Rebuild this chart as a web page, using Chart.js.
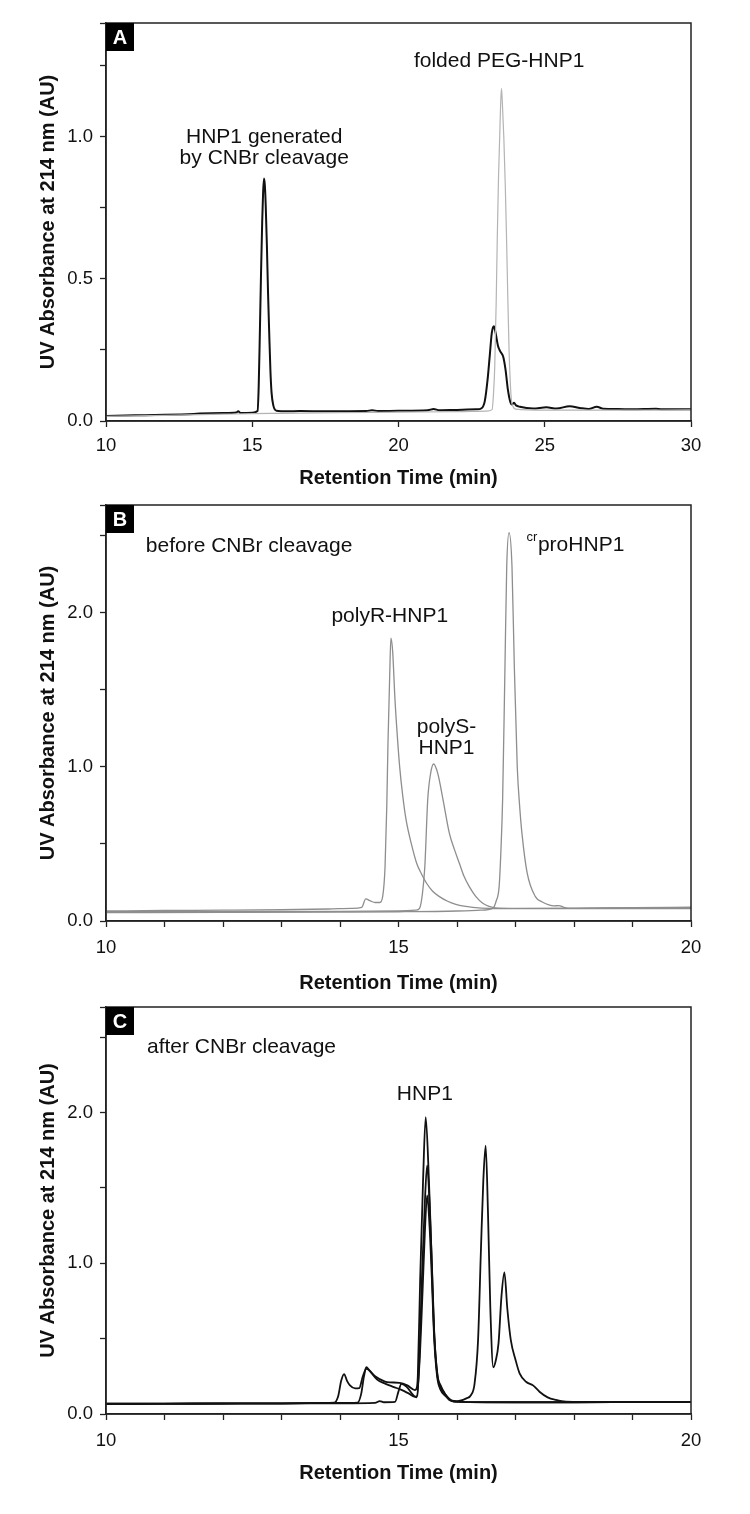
<!DOCTYPE html>
<html><head><meta charset="utf-8">
<script src="https://cdn.jsdelivr.net/npm/chart.js@4.4.0/dist/chart.umd.min.js"></script>
<style>
html,body{margin:0;padding:0;background:#fff;width:750px;height:1514px;overflow:hidden;}
.panel{position:absolute;left:0;width:750px;}
canvas{display:block;}
</style></head><body>
<div class="panel" style="top:0px;height:500px"><canvas id="cA" width="750" height="500"></canvas></div>
<div class="panel" style="top:480px;height:520px"><canvas id="cB" width="750" height="520"></canvas></div>
<div class="panel" style="top:985px;height:529px"><canvas id="cC" width="750" height="529"></canvas></div>
<script>
// ---------- Panel A data ----------
const timeA_cleaved = [10, 11, 12, 13, 13.2, 14, 14.45, 14.52, 14.6, 15.0, 15.18, 15.22, 15.26, 15.3, 15.34, 15.37, 15.4, 15.43, 15.46, 15.5, 15.54, 15.58, 15.62, 15.66, 15.72, 15.83, 16.2, 16.63, 17.5, 18.9, 19.1, 19.3, 20, 21.0, 21.2, 21.4, 22.0, 22.67, 22.84, 22.95, 23.05, 23.12, 23.19, 23.26, 23.32, 23.4, 23.48, 23.58, 23.66, 23.74, 23.82, 23.88, 23.95, 24.02, 24.15, 24.6, 25.06, 25.4, 25.85, 26.2, 26.5, 26.78, 27.0, 27.5, 28.0, 28.8, 29.0, 30];
const absA_cleaved  = [0.018, 0.020, 0.022, 0.025, 0.026, 0.028, 0.030, 0.034, 0.028, 0.029, 0.035, 0.12, 0.31, 0.52, 0.70, 0.80, 0.853, 0.83, 0.76, 0.62, 0.45, 0.31, 0.18, 0.10, 0.055, 0.036, 0.034, 0.035, 0.034, 0.035, 0.038, 0.035, 0.036, 0.038, 0.042, 0.038, 0.039, 0.041, 0.045, 0.07, 0.15, 0.23, 0.31, 0.333, 0.31, 0.265, 0.245, 0.226, 0.18, 0.11, 0.068, 0.058, 0.064, 0.055, 0.05, 0.044, 0.048, 0.044, 0.052, 0.046, 0.042, 0.05, 0.043, 0.042, 0.041, 0.043, 0.041, 0.041];
const timeA_peg = [10, 12, 14, 15, 16, 18, 20, 22, 23.0, 23.2, 23.25, 23.29, 23.34, 23.38, 23.42, 23.46, 23.49, 23.52, 23.55, 23.6, 23.65, 23.69, 23.74, 23.78, 23.82, 23.86, 23.92, 24.0, 25, 27, 30];
const absA_peg  = [0.016, 0.020, 0.024, 0.026, 0.027, 0.029, 0.031, 0.033, 0.035, 0.04, 0.1, 0.19, 0.42, 0.66, 0.86, 1.0, 1.11, 1.17, 1.12, 1.0, 0.83, 0.66, 0.42, 0.25, 0.14, 0.074, 0.05, 0.042, 0.038, 0.038, 0.039];

// ---------- Panel B data ----------
const timeB_polyR = [10, 11, 12, 13, 13.8, 14.2, 14.37, 14.44, 14.52, 14.6, 14.68, 14.73, 14.77, 14.8, 14.82, 14.85, 14.87, 14.9, 14.94, 14.98, 15.02, 15.07, 15.13, 15.22, 15.31, 15.4, 15.48, 15.58, 15.7, 15.84, 15.98, 16.12, 16.27, 16.55, 17, 18, 19, 20];
const absB_polyR  = [0.065, 0.068, 0.07, 0.073, 0.078, 0.082, 0.088, 0.143, 0.13, 0.12, 0.12, 0.16, 0.35, 0.75, 1.15, 1.6, 1.835, 1.75, 1.435, 1.2, 1.0, 0.82, 0.656, 0.5, 0.375, 0.3, 0.245, 0.195, 0.158, 0.128, 0.108, 0.096, 0.089, 0.082, 0.08, 0.08, 0.08, 0.08];
const timeB_polyS = [10, 12, 14, 15, 15.3, 15.36, 15.41, 15.45, 15.5, 15.55, 15.6, 15.67, 15.76, 15.87, 15.96, 16.04, 16.12, 16.21, 16.32, 16.44, 16.55, 16.66, 17, 18, 19, 20];
const absB_polyS  = [0.06, 0.06, 0.062, 0.065, 0.07, 0.082, 0.18, 0.353, 0.79, 0.96, 1.019, 0.96, 0.79, 0.569, 0.46, 0.375, 0.29, 0.223, 0.16, 0.115, 0.095, 0.085, 0.082, 0.083, 0.085, 0.087];
const timeB_crpro = [10, 12, 14, 15, 16, 16.4, 16.61, 16.67, 16.72, 16.75, 16.78, 16.82, 16.85, 16.89, 16.94, 16.98, 17.03, 17.07, 17.11, 17.2, 17.34, 17.45, 17.57, 17.66, 17.74, 17.82, 17.9, 18.5, 19, 20];
const absB_crpro  = [0.055, 0.056, 0.058, 0.06, 0.065, 0.07, 0.082, 0.13, 0.223, 0.45, 0.79, 1.651, 2.3, 2.52, 2.3, 1.65, 1.0, 0.75, 0.57, 0.31, 0.158, 0.125, 0.104, 0.098, 0.1, 0.09, 0.082, 0.085, 0.087, 0.09];

// ---------- Panel C data ----------
const timeC_run1 = [10, 11, 12, 13, 13.9, 13.97, 14.02, 14.07, 14.12, 14.17, 14.26, 14.33, 14.39, 14.45, 14.5, 14.6, 14.77, 14.85, 15.02, 15.15, 15.28, 15.31, 15.33, 15.37, 15.42, 15.465, 15.52, 15.56, 15.61, 15.67, 15.72, 15.79, 15.87, 15.99, 16.5, 17, 18, 19, 20];
const absC_run1  = [0.068, 0.069, 0.07, 0.071, 0.075, 0.12, 0.22, 0.265, 0.22, 0.19, 0.17, 0.172, 0.25, 0.30, 0.29, 0.25, 0.215, 0.21, 0.207, 0.19, 0.159, 0.17, 0.25, 0.887, 1.55, 1.97, 1.55, 1.108, 0.534, 0.25, 0.19, 0.137, 0.093, 0.082, 0.078, 0.078, 0.078, 0.079, 0.08];
const timeC_run2 = [10, 11, 12, 13, 14, 14.3, 14.36, 14.41, 14.45, 14.5, 14.63, 14.78, 14.91, 15.05, 15.18, 15.28, 15.32, 15.36, 15.4, 15.45, 15.49, 15.53, 15.57, 15.61, 15.66, 15.72, 15.8, 15.9, 16.0, 17, 18, 19, 20];
const absC_run2  = [0.068, 0.069, 0.07, 0.071, 0.073, 0.075, 0.13, 0.25, 0.31, 0.29, 0.23, 0.2, 0.18, 0.16, 0.135, 0.115, 0.12, 0.4, 0.9, 1.4, 1.65, 1.4, 1.0, 0.55, 0.27, 0.18, 0.13, 0.09, 0.08, 0.078, 0.078, 0.079, 0.08];
const timeC_run3 = [10, 11, 12, 13, 14, 14.6, 14.68, 14.75, 14.94, 15.0, 15.05, 15.14, 15.25, 15.31, 15.36, 15.41, 15.45, 15.49, 15.53, 15.57, 15.61, 15.66, 15.72, 15.8, 15.9, 16.0, 16.16, 16.24, 16.3, 16.36, 16.41, 16.45, 16.49, 16.53, 16.57, 16.62, 16.66, 16.71, 16.76, 16.81, 16.86, 16.92, 17.0, 17.07, 17.18, 17.3, 17.41, 17.55, 17.69, 17.86, 18.5, 19, 20];
const absC_run3  = [0.066, 0.067, 0.068, 0.069, 0.071, 0.074, 0.086, 0.078, 0.08, 0.15, 0.2, 0.18, 0.126, 0.11, 0.35, 0.8, 1.2, 1.45, 1.25, 0.9, 0.5, 0.25, 0.16, 0.12, 0.09, 0.085, 0.104, 0.126, 0.2, 0.49, 1.1, 1.55, 1.78, 1.33, 0.7, 0.31, 0.35, 0.47, 0.78, 0.94, 0.7, 0.49, 0.36, 0.27, 0.214, 0.19, 0.148, 0.11, 0.093, 0.082, 0.08, 0.08, 0.08];

// ---------- Tick labels ----------
const xTickLabelsA = ['10', '15', '20', '25', '30'];
const xTickLabelsBC = ['10', '15', '20'];
const yTickLabelsA = ['0.0', '0.5', '1.0'];
const yTickLabelsBC = ['0.0', '1.0', '2.0'];

// ---------- Text labels ----------
const panelLetters = ['A', 'B', 'C'];
const notesA_text = ['HNP1 generated', 'by CNBr cleavage', 'folded PEG-HNP1'];
const notesA_x = [15.41, 15.41, 23.44];
const notesA_y = [1.0, 0.923, 1.267];
const notesB_text = ['before CNBr cleavage', 'polyR-HNP1', 'polyS-', 'HNP1', 'proHNP1'];
const notesB_x = [10.68, 14.85, 15.82, 15.82, 17.19];
const notesB_y = [2.43, 1.976, 1.26, 1.12, 2.44];
const notesB_sup = ['', '', '', '', 'cr'];
const notesB_align = ['left', 'center', 'center', 'center', 'left'];
const notesC_text = ['after CNBr cleavage', 'HNP1'];
const notesC_x = [10.70, 15.45];
const notesC_y = [2.43, 2.12];
const notesC_align = ['left', 'center'];

const X_TITLE = 'Retention Time (min)';
const Y_TITLE = 'UV Absorbance at 214 nm (AU)';

Chart.defaults.font.family = "'Liberation Sans', Arial, Helvetica, sans-serif";
Chart.defaults.color = '#111';

function pts(xs, ys) { return xs.map((x, i) => ({x: x, y: ys[i]})); }
function ds(xs, ys, color, w) {
  return {data: pts(xs, ys), borderColor: color, borderWidth: w, pointRadius: 0, fill: false,
          cubicInterpolationMode: 'monotone'};
}
function isLabelled(v, list) {
  return list.some(s => Math.abs(parseFloat(s) - v) < 1e-6);
}
function fmt(v, list, dec) {
  return isLabelled(v, list) ? v.toFixed(dec) : '';
}

function makePanel(id, cfg) {
  const framePlugin = {
    id: 'frame_' + id,
    afterDatasetsDraw(chart) {
      const {ctx, chartArea: a, scales} = chart;
      ctx.save();
      ctx.strokeStyle = '#222';
      ctx.lineWidth = 1.5;
      ctx.strokeRect(a.left, a.top, a.right - a.left, a.bottom - a.top);
      // letter box
      ctx.fillStyle = '#000';
      ctx.fillRect(a.left, a.top, 28, 28);
      ctx.fillStyle = '#fff';
      ctx.font = "bold 20px 'Liberation Sans', Arial, sans-serif";
      ctx.textAlign = 'center';
      ctx.textBaseline = 'middle';
      ctx.fillText(cfg.letter, a.left + 14, a.top + 15);
      // annotations
      ctx.fillStyle = '#111';
      ctx.textBaseline = 'middle';
      cfg.notes.forEach(n => {
        const px = scales.x.getPixelForValue(n.x);
        const py = scales.y.getPixelForValue(n.y);
        let startX = px;
        if (n.sup) {
          ctx.font = "13px 'Liberation Sans', Arial, sans-serif";
          ctx.textAlign = 'left';
          ctx.fillText(n.sup, px, py - 8);
          startX = px + ctx.measureText(n.sup).width + 0.5;
        }
        ctx.font = "21px 'Liberation Sans', Arial, sans-serif";
        ctx.textAlign = n.align;
        ctx.fillText(n.text, startX, py);
      });
      ctx.restore();
    }
  };
  return new Chart(document.getElementById(id), {
    type: 'line',
    data: {datasets: cfg.datasets},
    options: {
      responsive: false,
      animation: false,
      devicePixelRatio: 1,
      layout: {padding: {top: cfg.padTop, right: 59, bottom: 0, left: 0}},
      plugins: {legend: {display: false}, tooltip: {enabled: false}},
      elements: {line: {borderJoinStyle: 'round'}},
      scales: {
        x: {
          type: 'linear', min: cfg.xmin, max: cfg.xmax, bounds: 'data',
          afterFit: s => { s.height = cfg.xHeight; },
          border: {display: true, color: '#222', width: 1.5},
          grid: {display: true, drawOnChartArea: false, drawTicks: true, tickLength: 6, tickWidth: 1.3, tickColor: '#222', color: '#222'},
          ticks: {stepSize: cfg.xstep, autoSkip: false, maxRotation: 0, padding: cfg.xTickPad, includeBounds: false,
                  font: {size: 18.5}, color: '#111', callback: v => isLabelled(v, cfg.xLabels) ? String(v) : ''},
          title: {display: true, text: X_TITLE, font: {size: 20, weight: 'bold'}, color: '#111',
                  padding: {top: 0, bottom: cfg.xTitlePad}}
        },
        y: {
          type: 'linear', min: 0, max: cfg.ymax, bounds: 'data',
          afterFit: s => { s.width = 106; },
          border: {display: true, color: '#222', width: 1.5},
          grid: {display: true, drawOnChartArea: false, drawTicks: true, tickLength: 6, tickWidth: 1.3, tickColor: '#222', color: '#222'},
          ticks: {stepSize: cfg.ystep, autoSkip: false, padding: 7, includeBounds: false,
                  font: {size: 18.5}, color: '#111', callback: v => fmt(v, cfg.yLabels, 1)},
          title: {display: true, text: Y_TITLE, font: {size: 20, weight: 'bold'}, color: '#111',
                  padding: {top: 36, bottom: 0}}
        }
      }
    },
    plugins: [framePlugin]
  });
}

makePanel('cA', {
  letter: panelLetters[0], padTop: 23, xHeight: 79, xTitlePad: 10, xTickPad: 8,
  xmin: 10, xmax: 30, xstep: 5, xLabels: xTickLabelsA,
  ymax: 1.4, ystep: 0.25, yLabels: yTickLabelsA,
  datasets: [
    ds(timeA_peg, absA_peg, '#b4b4b4', 1.2),
    ds(timeA_cleaved, absA_cleaved, '#111', 2)
  ],
  notes: notesA_text.map((t, i) => ({text: t, x: notesA_x[i], y: notesA_y[i], align: 'center'}))
});

makePanel('cB', {
  letter: panelLetters[1], padTop: 25, xHeight: 79, xTitlePad: 5, xTickPad: 10,
  xmin: 10, xmax: 20, xstep: 1, xLabels: xTickLabelsBC,
  ymax: 2.7, ystep: 0.5, yLabels: yTickLabelsBC,
  datasets: [
    ds(timeB_crpro, absB_crpro, '#8e8e8e', 1.3),
    ds(timeB_polyS, absB_polyS, '#8e8e8e', 1.3),
    ds(timeB_polyR, absB_polyR, '#8e8e8e', 1.3)
  ],
  notes: notesB_text.map((t, i) => ({text: t, x: notesB_x[i], y: notesB_y[i], align: notesB_align[i], sup: notesB_sup[i]}))
});

makePanel('cC', {
  letter: panelLetters[2], padTop: 22, xHeight: 100, xTitlePad: 29, xTickPad: 10,
  xmin: 10, xmax: 20, xstep: 1, xLabels: xTickLabelsBC,
  ymax: 2.7, ystep: 0.5, yLabels: yTickLabelsBC,
  datasets: [
    ds(timeC_run3, absC_run3, '#111', 1.8),
    ds(timeC_run2, absC_run2, '#111', 1.8),
    ds(timeC_run1, absC_run1, '#111', 1.8)
  ],
  notes: notesC_text.map((t, i) => ({text: t, x: notesC_x[i], y: notesC_y[i], align: notesC_align[i]}))
});
</script>
</body></html>
